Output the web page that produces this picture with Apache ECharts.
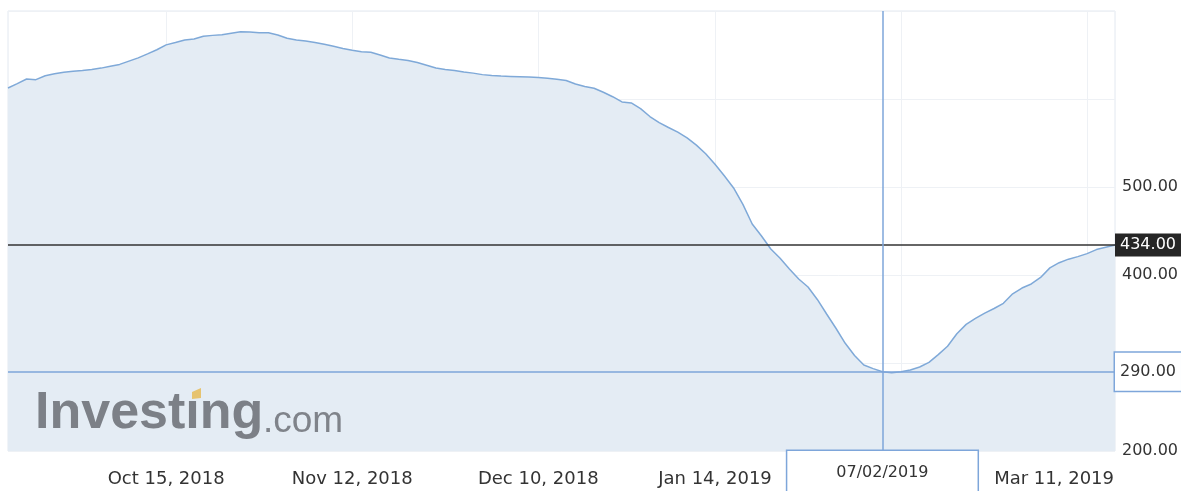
<!DOCTYPE html>
<html>
<head>
<meta charset="utf-8">
<script src="https://cdn.jsdelivr.net/npm/echarts@6/dist/echarts.min.js"></script>
<style>
html,body{margin:0;padding:0;background:#fff;}
#chart{width:1181px;height:491px;}
</style>
</head>
<body>
<div id="chart"></div>
<script>
// Trading dates (DD/MM/YYYY)
const dates = [
'20/09/2018','21/09/2018','24/09/2018','25/09/2018','26/09/2018','27/09/2018','28/09/2018',
'01/10/2018','02/10/2018','03/10/2018','04/10/2018','05/10/2018','08/10/2018','09/10/2018','10/10/2018','11/10/2018','12/10/2018',
'15/10/2018','16/10/2018','17/10/2018','18/10/2018','19/10/2018','22/10/2018','23/10/2018','24/10/2018','25/10/2018','26/10/2018',
'29/10/2018','30/10/2018','31/10/2018','01/11/2018','02/11/2018','05/11/2018','06/11/2018','07/11/2018','08/11/2018','09/11/2018',
'12/11/2018','13/11/2018','14/11/2018','15/11/2018','16/11/2018','19/11/2018','20/11/2018','21/11/2018','22/11/2018','23/11/2018',
'26/11/2018','27/11/2018','28/11/2018','29/11/2018','30/11/2018','03/12/2018','04/12/2018','05/12/2018','06/12/2018','07/12/2018',
'10/12/2018','11/12/2018','12/12/2018','13/12/2018','14/12/2018','17/12/2018','18/12/2018','19/12/2018','20/12/2018','21/12/2018',
'27/12/2018','28/12/2018','02/01/2019','03/01/2019','04/01/2019','08/01/2019','09/01/2019','10/01/2019','11/01/2019',
'14/01/2019','15/01/2019','16/01/2019','17/01/2019','18/01/2019','21/01/2019','22/01/2019','23/01/2019','24/01/2019','25/01/2019',
'28/01/2019','29/01/2019','30/01/2019','31/01/2019','01/02/2019','04/02/2019','05/02/2019','06/02/2019','07/02/2019','08/02/2019',
'11/02/2019','12/02/2019','13/02/2019','14/02/2019','15/02/2019','18/02/2019','19/02/2019','20/02/2019','21/02/2019','22/02/2019',
'25/02/2019','26/02/2019','27/02/2019','28/02/2019','01/03/2019','04/03/2019','05/03/2019','06/03/2019','07/03/2019','08/03/2019',
'11/03/2019','12/03/2019','13/03/2019','14/03/2019'
];

const values = [
612.5,617.4,622.7,622.0,626.4,628.8,630.5,631.6,632.5,633.6,
635.1,637.3,639.3,643.0,646.7,651.3,656.0,661.5,664.1,667.0,
668.2,671.3,672.3,673.0,674.8,676.5,676.1,675.3,675.3,672.7,
669.0,667.0,665.8,664.2,662.2,659.9,657.5,655.3,653.8,653.2,
650.0,646.6,645.1,643.8,641.4,638.4,635.2,633.6,632.3,630.8,
629.4,627.7,626.8,626.1,625.7,625.3,624.9,624.3,623.5,622.5,
621.0,617.0,614.1,612.2,607.7,602.6,596.7,595.5,589.1,580.1,
573.2,567.6,562.4,555.8,547.6,537.7,525.8,512.7,498.9,480.3,
458.0,444.3,429.5,419.0,406.8,395.5,386.4,372.2,355.7,339.5,
322.4,308.5,297.7,293.6,290.0,289.0,290.0,292.0,295.5,300.8,
309.5,319.0,333.3,343.9,350.7,356.7,361.9,367.8,378.6,385.2,
389.8,397.2,408.1,414.0,418.0,420.9,424.3,428.9,431.5,434.0
];

// Axis tick dates shown on the x axis (gridlines) and labelled ones
const gridDates = ['15/10/2018','12/11/2018','10/12/2018','14/01/2019','11/02/2019','11/03/2019'];
const labelDates = ['15/10/2018','12/11/2018','10/12/2018','14/01/2019','11/03/2019'];
const yLabelValues = [200, 400, 500];
const lastValue = 434;
const crossDate = '07/02/2019';
const crossValue = 290;

const months = ['Jan','Feb','Mar','Apr','May','Jun','Jul','Aug','Sep','Oct','Nov','Dec'];
function fmtDate(s){
  const p = s.split('/');
  return months[parseInt(p[1],10)-1] + ' ' + parseInt(p[0],10) + ', ' + p[2];
}

const FONT = 'DejaVu Sans';
const chart = echarts.init(document.getElementById('chart'), null, {renderer:'canvas'});

chart.setOption({
  backgroundColor:'#ffffff',
  animation:false,
  grid:{left:8, right:66, top:11, bottom:40, show:true, borderColor:'#e2e8f0', borderWidth:1, backgroundColor:'transparent'},
  xAxis:{
    type:'category',
    data:dates,
    boundaryGap:false,
    axisLine:{show:false},
    axisTick:{show:false},
    splitLine:{show:true, lineStyle:{color:'#eef1f5', width:1},
      interval:function(i, v){ return gridDates.indexOf(v) >= 0; }},
    axisLabel:{
      interval:function(i, v){ return labelDates.indexOf(v) >= 0; },
      color:'#333333', fontFamily:FONT, fontSize:18, margin:19,
      formatter:function(v){
        if (v === '11/03/2019') return '{m|' + fmtDate(v) + '}';
        return fmtDate(v);
      },
      rich:{ m:{fontFamily:FONT, fontSize:18, color:'#333333', padding:[0,66,0,0]} }
    }
  },
  yAxis:{
    type:'value',
    position:'right',
    min:200, max:700, interval:100,
    axisLine:{show:false},
    axisTick:{show:false},
    splitLine:{show:true, lineStyle:{color:'#eef1f5', width:1}},
    axisLabel:{
      color:'#333333', fontFamily:FONT, fontSize:16, margin:7,
      formatter:function(v){ return yLabelValues.indexOf(v) >= 0 ? v.toFixed(2) : ''; }
    }
  },
  series:[{
    type:'line',
    data:values,
    showSymbol:false,
    symbol:'none',
    silent:true,
    lineStyle:{color:'#7fa9d8', width:1.5},
    areaStyle:{color:'#e4ecf4', opacity:1, origin:'start'},
    emphasis:{disabled:true},
    z:2,
    markLine:{
      silent:true,
      symbol:['none','none'],
      animation:false,
      data:[
        {yAxis:lastValue,
         lineStyle:{color:'#333333', width:1.5, type:'solid'},
         label:{show:true, position:'end', distance:0, formatter:function(){return lastValue.toFixed(2);},
           color:'#ffffff', backgroundColor:'#262626', fontFamily:FONT, fontSize:16, lineHeight:16,
           padding:[4,5,3,5]}},
        {yAxis:crossValue,
         lineStyle:{color:'#7ea6da', width:1.5, type:'solid'},
         label:{show:true, position:'end', distance:0, formatter:function(){return crossValue.toFixed(2);},
           color:'#333333', backgroundColor:'#ffffff', borderColor:'#7ea6da', borderWidth:1.5,
           fontFamily:FONT, fontSize:16, lineHeight:16, padding:[11,5,11,5]}},
        {xAxis:crossDate,
         lineStyle:{color:'#7ea6da', width:1.5, type:'solid'},
         label:{show:true, position:'start', distance:0, formatter:function(){return crossDate;},
           color:'#333333', backgroundColor:'#ffffff', borderColor:'#7ea6da', borderWidth:1.5,
           fontFamily:FONT, fontSize:16, lineHeight:16, padding:[14,49,14,49]}}
      ]
    }
  }],
  graphic:[
    {type:'text', z:100, left:35, top:388,
     style:{text:'Invest\u0131ng', font:'bold 52px "Liberation Sans"', fill:'#7c8087'}},
    {type:'text', z:100, left:263, top:403,
     style:{text:'.com', font:'37px "Liberation Sans"', fill:'#7f838a'}},
    {type:'polygon', z:101,
     shape:{points:[[192,392],[201,388],[201,398],[192,399]]},
     style:{fill:'#e6c36f'}}
  ]
});
</script>
</body>
</html>
